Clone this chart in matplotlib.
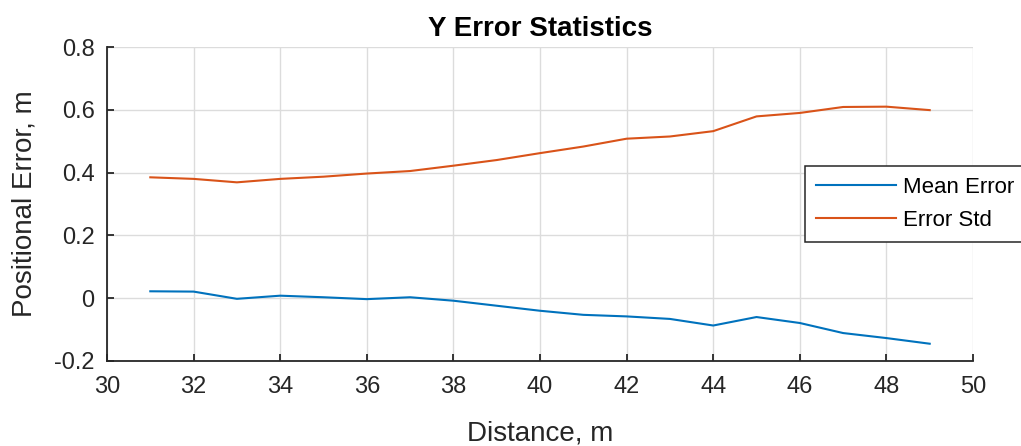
import numpy as np
import matplotlib.pyplot as plt

plt.rcParams['font.family'] = ['Liberation Sans', 'DejaVu Sans']

distance = [31, 32, 33, 34, 35, 36, 37, 38, 39, 40, 41, 42, 43, 44, 45, 46, 47, 48, 49]
mean_error = [0.022, 0.021, -0.002, 0.008, 0.003, -0.003, 0.003, -0.008, -0.024, -0.040,
              -0.053, -0.058, -0.066, -0.087, -0.060, -0.079, -0.111, -0.127, -0.145]
error_std = [0.385, 0.380, 0.369, 0.380, 0.387, 0.397, 0.405, 0.422, 0.440, 0.462,
             0.483, 0.508, 0.515, 0.532, 0.579, 0.590, 0.609, 0.610, 0.599]

axcol = '#262626'

fig = plt.figure(figsize=(10.21, 4.46), dpi=100)
ax = fig.add_axes([0.1048, 0.1906, 0.8482, 0.704])

ax.plot(distance, mean_error, color='#0072BD', lw=1.5, label='Mean Error')
ax.plot(distance, error_std, color='#D95319', lw=1.5, label='Error Std')

ax.set_xlim(30, 50)
ax.set_ylim(-0.2, 0.8)
ax.set_xticks(np.arange(30, 51, 2))
ax.set_yticks([-0.2, 0, 0.2, 0.4, 0.6, 0.8])
ax.set_yticklabels(['-0.2', '0', '0.2', '0.4', '0.6', '0.8'])
ax.grid(True, color='#dcdcdc', lw=1)
ax.set_axisbelow(True)

for s in ['top', 'right']:
    ax.spines[s].set_visible(False)
for s in ['left', 'bottom']:
    ax.spines[s].set_color(axcol)
    ax.spines[s].set_linewidth(1.3)
ax.tick_params(direction='in', length=5, width=1.3, color=axcol,
               labelcolor=axcol, labelsize=17)
ax.tick_params(axis='x', pad=11)
ax.tick_params(axis='y', pad=9)

ax.set_xlabel('Distance, m', fontsize=20, color=axcol, labelpad=16)
ax.set_ylabel('Positional Error, m', fontsize=20, color=axcol, labelpad=12)
ax.set_title('Y Error Statistics', fontsize=20, fontweight='bold', pad=8)

leg = ax.legend(loc='upper left', bbox_to_anchor=(0.788, 0.628), bbox_transform=fig.transFigure,
                fontsize=16, frameon=True, fancybox=False, framealpha=1,
                edgecolor=axcol, handlelength=3.6, handletextpad=0.35,
                borderpad=0.5, labelspacing=0.55, borderaxespad=0)
leg.get_frame().set_linewidth(1.1)

fig.savefig('out.png', dpi=100)
